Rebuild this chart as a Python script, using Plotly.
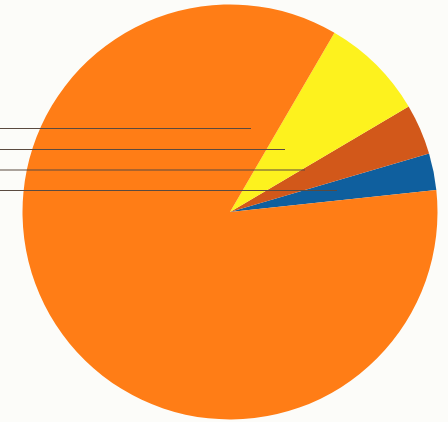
import plotly.graph_objects as go

# Data (shares of the whole, counterclockwise from ~6 deg)
labels = ["Blue", "Brown", "Yellow", "Orange"]
values = [2.86, 3.94, 8.11, 85.09]
colors = ["#0f5f9e", "#d2581a", "#fdf21e", "#ff7d16"]

W, H = 448, 422
cx, cy, r = 230.0, 212.0, 207.5

fig = go.Figure(go.Pie(
    labels=labels, values=values, sort=False,
    direction="counterclockwise", rotation=73.6,
    marker=dict(colors=colors, line=dict(width=0)),
    textinfo="none", hoverinfo="label+percent", showlegend=False,
    domain=dict(x=[(cx - r) / W, (cx + r) / W],
                y=[1 - (cy + r) / H, 1 - (cy - r) / H]),
))

# leader lines (label text lies outside the crop)
leader_y = [128.5, 149.5, 170.0, 190.5]
leader_x_end = [251, 285, 305, 337]
shapes = []
for y, xe in zip(leader_y, leader_x_end):
    shapes.append(dict(type="line", xref="paper", yref="paper",
                       x0=0, x1=xe / W, y0=1 - y / H, y1=1 - y / H,
                       line=dict(color="#5a4a40", width=1.2)))

fig.update_layout(
    width=W, height=H, margin=dict(l=0, r=0, t=0, b=0),
    paper_bgcolor="#fcfcf9", plot_bgcolor="#fcfcf9",
    shapes=shapes,
)
fig.write_html("out.html")
